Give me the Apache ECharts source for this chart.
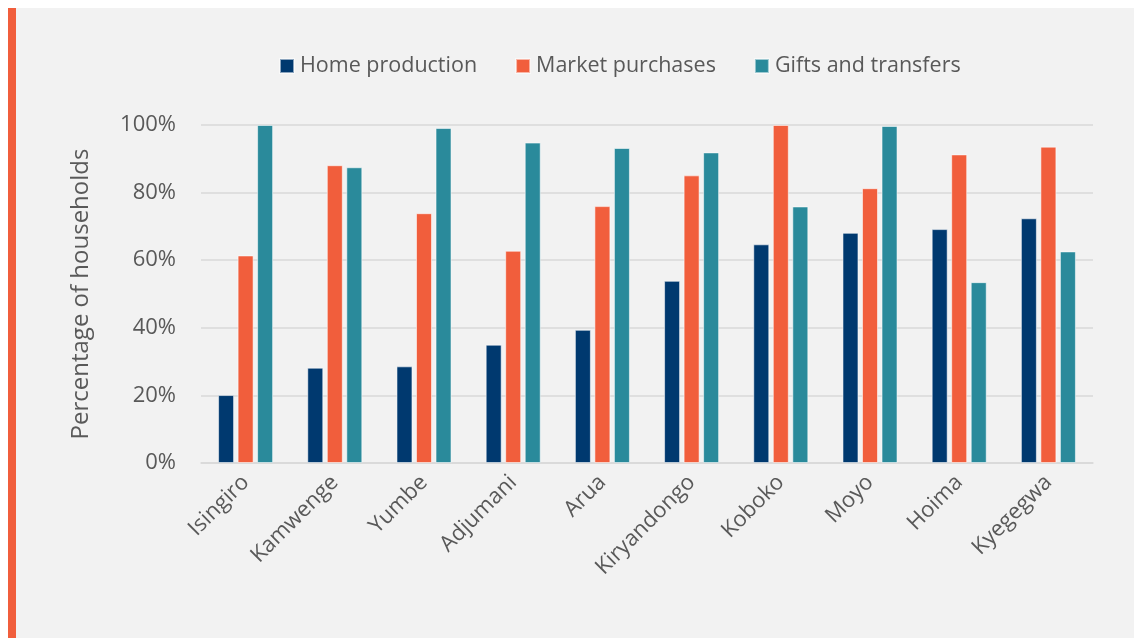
<!DOCTYPE html>
<html>
<head>
<meta charset="utf-8">
<title>Food sources by district</title>
<script src="https://cdn.jsdelivr.net/npm/echarts@6/dist/echarts.min.js"></script>
<style>
  html, body { margin: 0; padding: 0; background: #ffffff; }
  #chart { width: 1134px; height: 638px; }
</style>
</head>
<body>
<div id="chart"></div>
<script>
// Districts along the x axis
const districts = ['Isingiro', 'Kamwenge', 'Yumbe', 'Adjumani', 'Arua', 'Kiryandongo', 'Koboko', 'Moyo', 'Hoima', 'Kyegegwa'];

// Share of households (%) reporting each food source
const homeProduction   = [20.1, 28.2, 28.6, 35.0, 39.4, 53.9, 64.7, 68.1, 69.2, 72.4];
const marketPurchases  = [61.4, 88.1, 73.9, 62.8, 76.0, 85.1, 100.0, 81.3, 91.3, 93.6];
const giftsTransfers   = [100.0, 87.5, 99.1, 94.8, 93.2, 91.9, 75.9, 99.7, 53.5, 62.6];

const seriesNames = ['Home production', 'Market purchases', 'Gifts and transfers'];
const yTicks = { min: 0, max: 100, interval: 20 };

const textColor = '#595959';
const fontFamily = '"Open Sans", "Noto Sans", sans-serif';
const colors = ['#00396F', '#F15E3C', '#2A8A9B'];

const chart = echarts.init(document.getElementById('chart'), null, { renderer: 'canvas' });

function barSeries(name, data, color) {
  return {
    name: name,
    type: 'bar',
    data: data,
    barWidth: 16,
    barGap: '22%',
    itemStyle: { color: color, borderColor: 'rgba(255,255,255,0.55)', borderWidth: 1 },
    emphasis: { disabled: true }
  };
}

chart.setOption({
  backgroundColor: '#ffffff',
  animation: false,
  textStyle: { fontFamily: fontFamily, color: textColor },
  graphic: [
    { type: 'rect', z: -10, shape: { x: 16, y: 8, width: 1118, height: 630 }, style: { fill: '#F2F2F2' } },
    { type: 'rect', z: -10, shape: { x: 8, y: 8, width: 8, height: 630 }, style: { fill: '#F15E3C' } }
  ],
  legend: {
    top: 50,
    left: 274,
    itemWidth: 14,
    itemHeight: 14,
    itemGap: 38,
    icon: 'rect',
    textStyle: { fontFamily: fontFamily, fontSize: 21.5, color: textColor, padding: [0, 0, 0, 1] },
    data: seriesNames
  },
  grid: { left: 201, right: 41, top: 125, bottom: 175, containLabel: false },
  xAxis: {
    type: 'category',
    data: districts,
    axisLine: { show: true, lineStyle: { color: '#D9D9D9', width: 1.5 } },
    axisTick: { show: false },
    axisLabel: {
      rotate: 45,
      margin: 16,
      fontSize: 22,
      color: textColor,
      fontFamily: fontFamily,
      interval: 0
    }
  },
  yAxis: {
    type: 'value',
    min: yTicks.min,
    max: yTicks.max,
    interval: yTicks.interval,
    name: 'Percentage of households',
    nameLocation: 'middle',
    nameGap: 108,
    nameTextStyle: { fontSize: 24, color: textColor, fontFamily: fontFamily },
    axisLine: { show: false },
    axisTick: { show: false },
    axisLabel: { formatter: '{value}%', fontSize: 22, color: textColor, margin: 25, fontFamily: fontFamily },
    splitLine: { lineStyle: { color: '#D9D9D9', width: 1.5 } }
  },
  series: [
    barSeries(seriesNames[0], homeProduction, colors[0]),
    barSeries(seriesNames[1], marketPurchases, colors[1]),
    barSeries(seriesNames[2], giftsTransfers, colors[2])
  ]
});
</script>
</body>
</html>
